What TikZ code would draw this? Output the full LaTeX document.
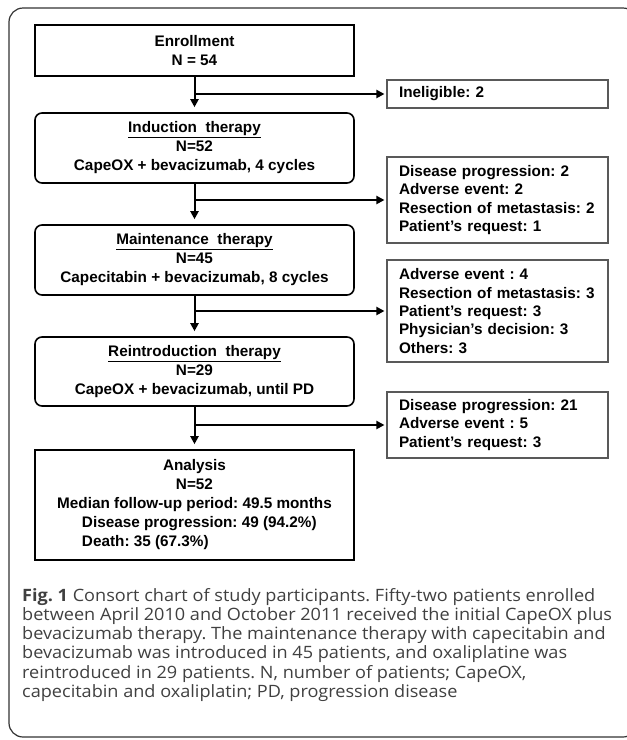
\documentclass[tikz,border=0pt]{standalone}
\usepackage{fontspec}
\setmainfont{Liberation Sans}
\newfontfamily\captionfont[FakeStretch=1.065]{Open Sans}
\usetikzlibrary{arrows.meta}
\frenchspacing

\begin{document}
\begin{tikzpicture}[
    x=1pt, y=-1pt,
    arrowstyle/.style={draw, line width=2pt, -{Triangle[length=8pt, width=8pt]}},
    stage/.style={rectangle, draw, line width=1.6pt, rounded corners=7pt,
        minimum width=319pt, inner sep=0pt, align=center,
        font=\bfseries\fontsize{15.3}{19}\selectfont},
    record/.style={stage, sharp corners},
    exclusion/.style={rectangle, draw=black!65, line width=1.1pt, minimum width=221pt,
        text width=197pt, inner xsep=12pt, inner ysep=0pt, align=left,
        font=\bfseries\fontsize{15.3}{18.4}\selectfont},
    frame/.style={draw=black!80, line width=1.2pt, rounded corners=14pt}
]
\useasboundingbox (0,0) rectangle (627,740);
\clip (0,0) rectangle (627,740);
\draw[frame] (9,8) rectangle (637,737);

% main line
\node (Enrollment) [record, minimum height=51pt] at (194.5,50.5) {Enrollment\\N = 54};
\node (Induction) [stage, minimum height=70pt] at (194.5,148)
  {\underline{Induction\ \ therapy}\\N=52\\CapeOX + bevacizumab, 4 cycles};
\node (Maintenance) [stage, minimum height=70pt] at (194.5,260)
  {\underline{Maintenance\ \ therapy}\\N=45\\Capecitabin + bevacizumab, 8 cycles};
\node (Reintroduction) [stage, minimum height=69pt] at (194.5,371.5)
  {\underline{Reintroduction\ \ therapy}\\N=29\\CapeOX + bevacizumab, until PD};
\node (Analysis) [record, minimum height=110pt] at (194.5,505)
  {Analysis\\N=52\\Median follow-up period: 49.5 months\\
   \makebox[225pt][l]{Disease progression: 49 (94.2\%)}\\
   \makebox[225pt][l]{Death: 35 (67.3\%)}};

% drop-outs
\node (Exclusion01) [exclusion, minimum height=28pt] at (497.5,94) {Ineligible: 2};
\node (Exclusion02) [exclusion, minimum height=86pt] at (497.5,200)
  {Disease progression: 2\\Adverse event: 2\\Resection of metastasis: 2\\Patient’s request: 1};
\node (Exclusion03) [exclusion, minimum height=102pt] at (497.5,311)
  {Adverse event : 4\\Resection of metastasis: 3\\Patient’s request: 3\\Physician’s decision: 3\\Others: 3};
\node (Exclusion04) [exclusion, minimum height=66pt] at (497.5,425)
  {Disease progression: 21\\Adverse event : 5\\Patient’s request: 3};

\draw[arrowstyle, shorten >=5pt] (Enrollment) -- (Induction);
\draw[arrowstyle, shorten >=5pt] (Induction) -- (Maintenance);
\draw[arrowstyle, shorten >=5pt] (Maintenance) -- (Reintroduction);
\draw[arrowstyle, shorten >=5pt] (Reintroduction) -- (Analysis);

\draw[arrowstyle, shorten >=2pt] (Enrollment.south |- Exclusion01.west) -- (Exclusion01.west);
\draw[arrowstyle, shorten >=2pt] (Induction.south |- Exclusion02.west) -- (Exclusion02.west);
\draw[arrowstyle, shorten >=2pt] (Maintenance.south |- Exclusion03.west) -- (Exclusion03.west);
\draw[arrowstyle, shorten >=2pt] (Reintroduction.south |- Exclusion04.west) -- (Exclusion04.west);

\node (Caption) [anchor=north west, align=left, inner sep=0pt, text=black!75,
    font=\captionfont\fontsize{17}{19.2}\selectfont] at (22,588)
  {\textbf{Fig. 1} Consort chart of study participants. Fifty-two patients enrolled\\
   between April 2010 and October 2011 received the initial CapeOX plus\\
   bevacizumab therapy. The maintenance therapy with capecitabin and\\
   bevacizumab was introduced in 45 patients, and oxaliplatine was\\
   reintroduced in 29 patients. N, number of patients; CapeOX,\\
   capecitabin and oxaliplatin; PD, progression disease};

\end{tikzpicture}
\end{document}
